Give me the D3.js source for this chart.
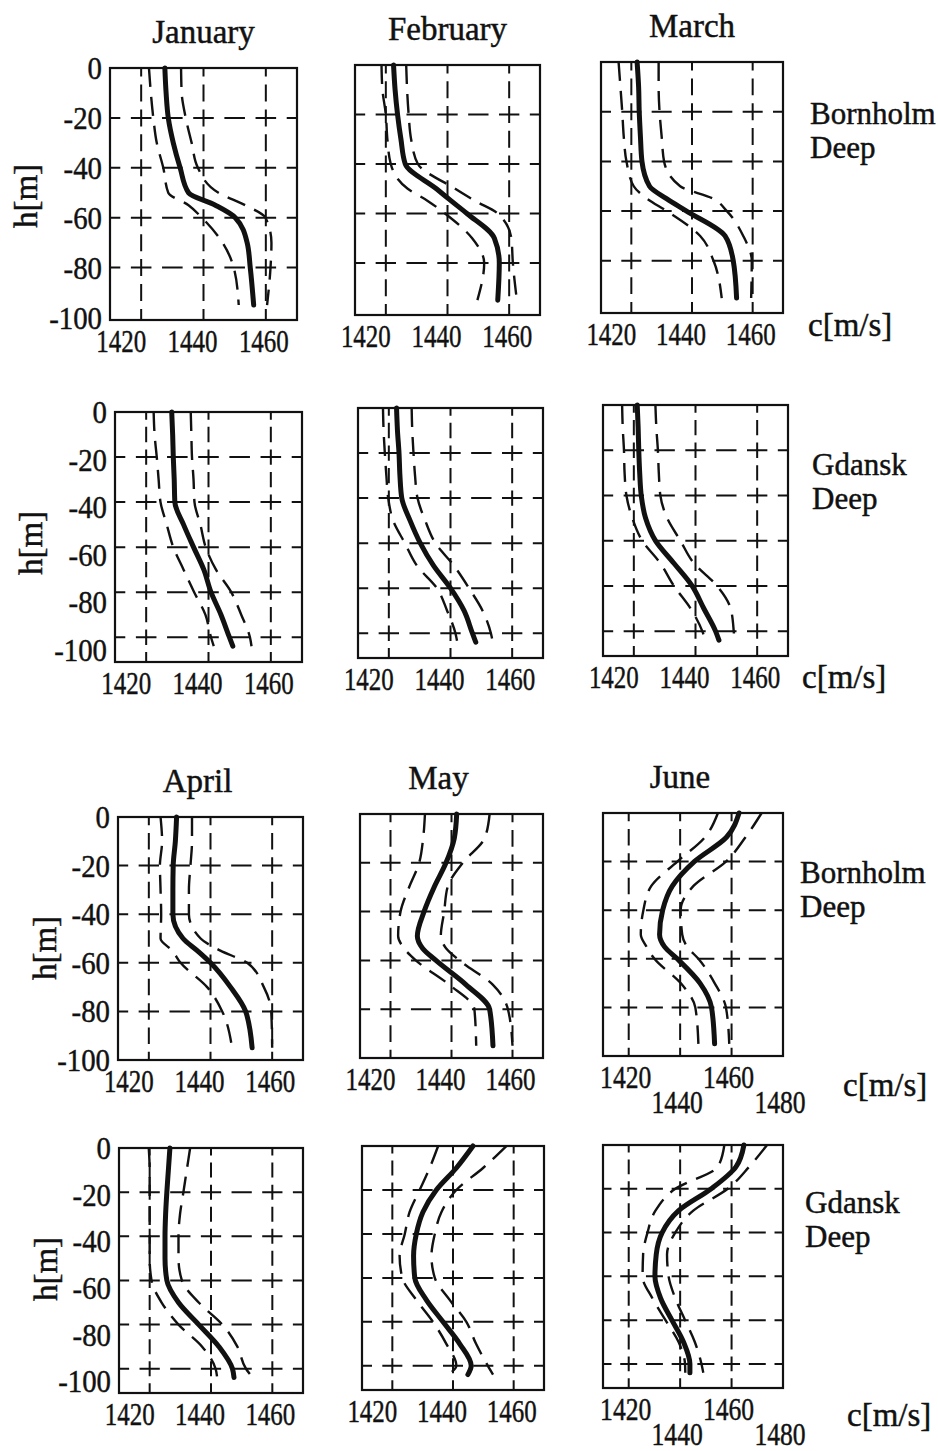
<!DOCTYPE html>
<html>
<head>
<meta charset="utf-8">
<script src="https://cdn.jsdelivr.net/npm/d3@7"></script>
<style>
  body { margin: 0; background: #fff; }
  svg { display: block; }
  text { font-family: "Liberation Serif", "Times New Roman", serif; fill: #111; stroke: #111; stroke-width: 0.45px; }
</style>
</head>
<body>
<svg id="chart" width="938" height="1451"></svg>
<script>
// ---- data (sound speed c [m/s] at depth h [m]) ----
const depthB = [0, -10, -20, -30, -40, -50, -55, -60, -70, -80, -95];
const depthG = [0, -10, -20, -30, -40, -50, -60, -70, -80, -90, -100, -104];

// Bornholm Deep, January - March
const janB_mean = [1427.6, 1428.0, 1428.7, 1430.3, 1432.5, 1435.2, 1443.8, 1450.2, 1454.0, 1455.0, 1456.1];
const janB_hi   = [1432.8, 1433.0, 1434.3, 1436.2, 1438.2, 1444.8, 1453.4, 1459.9, 1461.8, 1461.5, 1460.4];
const janB_lo   = [1422.5, 1423.1, 1423.9, 1425.0, 1427.1, 1428.7, 1435.2, 1439.5, 1446.1, 1449.7, 1451.3];
const febB_mean = [1422.5, 1423.0, 1423.8, 1424.9, 1426.3, 1436.4, 1441.3, 1446.3, 1455.2, 1456.8, 1456.3];
const febB_hi   = [1426.6, 1426.9, 1427.4, 1428.2, 1430.4, 1442.5, 1449.1, 1456.3, 1460.7, 1461.2, 1462.5];
const febB_lo   = [1418.6, 1418.9, 1420.0, 1420.5, 1421.6, 1427.1, 1433.7, 1439.2, 1448.0, 1451.9, 1449.7];
const marB_mean = [1421.9, 1422.4, 1422.6, 1423.0, 1423.5, 1426.0, 1431.6, 1438.2, 1450.9, 1453.6, 1454.7];
const marB_hi   = [1429.0, 1429.0, 1429.3, 1430.0, 1430.8, 1436.1, 1447.0, 1451.5, 1456.9, 1459.7, 1459.5];
const marB_lo   = [1415.8, 1416.4, 1417.0, 1417.5, 1418.4, 1420.8, 1425.2, 1431.7, 1442.7, 1447.1, 1449.8];

// Gdansk Deep, January - March
const janG_mean = [1428.2, 1428.5, 1428.7, 1429.0, 1429.2, 1432.0, 1435.2, 1438.5, 1440.8, 1444.0, 1446.7, 1447.8];
const janG_hi   = [1434.3, 1434.5, 1434.7, 1435.2, 1435.5, 1437.4, 1439.1, 1442.4, 1447.3, 1450.5, 1453.3, 1453.8];
const janG_lo   = [1422.4, 1422.7, 1423.4, 1424.0, 1424.6, 1426.6, 1428.7, 1432.0, 1435.4, 1439.0, 1440.8, 1441.7];
const febG_mean = [1422.5, 1422.8, 1423.3, 1423.6, 1424.2, 1426.9, 1430.2, 1434.5, 1440.0, 1444.4, 1447.1, 1448.2];
const febG_hi   = [1427.4, 1427.6, 1428.0, 1428.5, 1429.3, 1431.8, 1435.1, 1441.1, 1446.0, 1450.4, 1453.1, 1453.7];
const febG_lo   = [1418.1, 1418.3, 1418.7, 1419.2, 1419.8, 1421.4, 1425.2, 1429.1, 1435.6, 1438.9, 1441.6, 1442.2];
const marG_mean = [1421.1, 1421.4, 1421.6, 1421.9, 1422.4, 1423.8, 1427.0, 1433.0, 1438.9, 1442.7, 1446.5, 1447.6];
const marG_hi   = [1427.0, 1427.3, 1427.8, 1428.1, 1428.6, 1430.8, 1435.1, 1439.5, 1447.0, 1451.4, 1452.4, 1452.6];
const marG_lo   = [1416.2, 1416.4, 1416.8, 1417.0, 1417.6, 1419.5, 1422.7, 1428.6, 1433.0, 1438.4, 1442.2, 1443.2];

// Bornholm Deep, April - June
const aprB_mean = [1429.0, 1428.6, 1427.9, 1427.8, 1427.8, 1431.1, 1435.7, 1440.0, 1446.5, 1451.4, 1453.5];
const aprB_hi   = [1434.0, 1434.0, 1433.5, 1433.0, 1433.0, 1436.8, 1443.2, 1451.9, 1457.3, 1459.7, 1460.0];
const aprB_lo   = [1423.8, 1424.3, 1423.6, 1423.8, 1424.0, 1423.8, 1427.6, 1430.3, 1438.9, 1443.8, 1447.0];
const mayB_mean = [1441.7, 1440.9, 1438.2, 1434.3, 1431.0, 1428.8, 1430.5, 1434.9, 1444.8, 1452.5, 1453.6];
const mayB_hi   = [1452.5, 1450.8, 1443.7, 1438.7, 1437.6, 1436.5, 1438.2, 1442.6, 1453.6, 1458.5, 1460.0];
const mayB_lo   = [1431.3, 1430.7, 1429.4, 1426.1, 1423.3, 1422.5, 1424.4, 1428.3, 1439.3, 1447.5, 1448.1];
const junB_mean = [1462.9, 1458.0, 1445.5, 1437.0, 1433.2, 1432.0, 1433.9, 1438.9, 1447.7, 1452.2, 1453.4];
const junB_hi   = [1471.7, 1465.4, 1457.8, 1445.2, 1440.2, 1440.8, 1442.7, 1447.1, 1453.4, 1457.8, 1459.1];
const junB_lo   = [1454.7, 1449.6, 1438.9, 1428.8, 1425.7, 1424.7, 1426.9, 1430.0, 1440.2, 1445.9, 1447.1];

// Gdansk Deep, April - June
const aprG_mean = [1426.6, 1426.1, 1425.6, 1425.2, 1425.0, 1425.0, 1425.6, 1429.4, 1436.0, 1442.6, 1447.0, 1447.5];
const aprG_hi   = [1433.2, 1432.1, 1431.0, 1429.9, 1429.4, 1429.4, 1430.5, 1436.0, 1443.7, 1448.6, 1451.4, 1453.6];
const aprG_lo   = [1419.7, 1420.0, 1420.0, 1420.0, 1420.0, 1420.0, 1420.6, 1423.9, 1429.4, 1437.1, 1441.5, 1442.0];
const mayG_mean = [1446.6, 1441.1, 1434.5, 1430.1, 1427.9, 1427.0, 1427.4, 1431.2, 1436.7, 1442.2, 1446.0, 1444.9];
const mayG_hi   = [1457.6, 1449.9, 1441.1, 1436.2, 1434.0, 1432.9, 1434.0, 1438.9, 1444.4, 1447.6, 1451.5, 1453.2];
const mayG_lo   = [1435.1, 1432.3, 1429.0, 1425.7, 1424.1, 1422.4, 1423.3, 1427.9, 1433.4, 1437.8, 1441.1, 1438.4];
const junG_mean = [1464.8, 1461.7, 1452.1, 1439.4, 1433.0, 1430.7, 1430.2, 1432.4, 1436.8, 1441.3, 1443.8, 1443.8];
const junG_hi   = [1473.8, 1466.8, 1458.5, 1445.1, 1438.1, 1434.9, 1435.5, 1438.1, 1441.9, 1445.7, 1448.3, 1449.0];
const junG_lo   = [1457.2, 1454.6, 1438.1, 1430.4, 1427.3, 1425.6, 1425.4, 1429.2, 1434.3, 1439.4, 1441.9, 1442.0];

// ticks
const xTicks = [1420, 1440, 1460];
const xTicksJune = [1420, 1440, 1460, 1480];
const yTicks = [0, -20, -40, -60, -80, -100];
const yGridB = [-20, -40, -60, -80];
const yGridG = [-20, -40, -60, -80, -100];

// ---- layout ----
const rows = [
  { titles: ["January", "February", "March"], region: ["Bornholm", "Deep"], depth: depthB,
    yMin: -101, labMin: -101, grid: yGridB,
    boxes: [[110, 68, 297, 320], [355, 65, 540, 315], [601, 62, 783, 313]],
    series: [[janB_mean, janB_hi, janB_lo], [febB_mean, febB_hi, febB_lo], [marB_mean, marB_hi, marB_lo]],
    regionPos: [810, 124], unitPos: [808, 336], hPos: [27, 196], titleDx: 0, june: false },
  { titles: null, region: ["Gdansk", "Deep"], depth: depthG,
    yMin: -111, labMin: -105, grid: yGridG,
    boxes: [[115, 412, 302, 662], [358, 408, 543, 658], [603, 405, 788, 656]],
    series: [[janG_mean, janG_hi, janG_lo], [febG_mean, febG_hi, febG_lo], [marG_mean, marG_hi, marG_lo]],
    regionPos: [812, 475], unitPos: [802, 688], hPos: [32, 543], titleDx: 0, june: false },
  { titles: ["April", "May", "June"], region: ["Bornholm", "Deep"], depth: depthB,
    yMin: -100, labMin: -100, grid: yGridB,
    boxes: [[118, 817, 303, 1060], [360, 814, 543, 1058], [603, 813, 783, 1056]],
    series: [[aprB_mean, aprB_hi, aprB_lo], [mayB_mean, mayB_hi, mayB_lo], [junB_mean, junB_hi, junB_lo]],
    regionPos: [800, 883], unitPos: [843, 1096], hPos: [46, 948], titleDx: -13, june: true },
  { titles: null, region: ["Gdansk", "Deep"], depth: depthG,
    yMin: -111, labMin: -105, grid: yGridG,
    boxes: [[119, 1148, 303, 1393], [362, 1146, 544, 1390], [603, 1145, 783, 1388]],
    series: [[aprG_mean, aprG_hi, aprG_lo], [mayG_mean, mayG_hi, mayG_lo], [junG_mean, junG_hi, junG_lo]],
    regionPos: [805, 1213], unitPos: [847, 1426], hPos: [47, 1269], titleDx: 0, june: true }
];

const svg = d3.select("#chart");
const ink = "#111";

const mod = (a, p) => ((a % p) + p) % p;

rows.forEach(row => {
  row.boxes.forEach((b, col) => {
    const [x0, y0, x1, y1] = b;
    const isJune = row.june && col === 2;
    const x = d3.scaleLinear().domain(isJune ? [1410, 1480] : [1410, 1470]).range([x0, x1]);
    const y = d3.scaleLinear().domain([row.yMin, 0]).range([y1, y0]);
    const g = svg.append("g");

    // dashed grid, dashes centred on the crossings
    const px = (x(1440) - x(1420)) / 2, dx = px * 0.66;
    row.grid.forEach(v => {
      g.append("line")
        .attr("x1", x0).attr("x2", x1).attr("y1", y(v)).attr("y2", y(v))
        .attr("stroke", ink).attr("stroke-width", 2)
        .attr("stroke-dasharray", `${dx},${px - dx}`)
        .attr("stroke-dashoffset", mod(dx / 2 - (x(1420) - x0), px));
    });
    const py = (y(-20) - y(0)) / 2, dy = py * 0.68;
    [1420, 1440, 1460].forEach(v => {
      g.append("line")
        .attr("x1", x(v)).attr("x2", x(v)).attr("y1", y0).attr("y2", y1)
        .attr("stroke", ink).attr("stroke-width", 2)
        .attr("stroke-dasharray", `${dy},${py - dy}`)
        .attr("stroke-dashoffset", mod(dy / 2, py));
    });

    // frame
    g.append("rect")
      .attr("x", x0).attr("y", y0).attr("width", x1 - x0).attr("height", y1 - y0)
      .attr("fill", "none").attr("stroke", ink).attr("stroke-width", 2.2);

    // profiles
    const line = d3.line().x(d => x(d[0])).y(d => y(d[1])).curve(d3.curveMonotoneY);
    const [mean, hi, lo] = row.series[col];
    [hi, lo].forEach(s => {
      g.append("path").datum(d3.zip(s, row.depth))
        .attr("d", line).attr("fill", "none").attr("stroke", ink)
        .attr("stroke-width", 2.4).attr("stroke-dasharray", "19,10");
    });
    g.append("path").datum(d3.zip(mean, row.depth))
      .attr("d", line).attr("fill", "none").attr("stroke", ink)
      .attr("stroke-width", 5).attr("stroke-linecap", "round").attr("stroke-linejoin", "round");

    // x tick labels
    if (isJune) {
      xTicksJune.forEach((v, i) => {
        g.append("text")
          .attr("transform", `translate(${x(v) - 3},${y1 + (i % 2 ? 57 : 32)}) scale(0.8,1)`)
          .attr("text-anchor", "middle").style("font-size", "32px").text(v);
      });
    } else {
      const lx = d3.scaleLinear().domain([1420, 1460]).range([x(1420) - 20, x(1460) - 2]);
      xTicks.forEach(v => {
        g.append("text")
          .attr("transform", `translate(${lx(v)},${y1 + 32}) scale(0.78,1)`)
          .attr("text-anchor", "middle").style("font-size", "32px").text(v);
      });
    }

    // y tick labels and axis title on the first column
    if (col === 0) {
      const ly = d3.scaleLinear().domain([row.labMin, 0]).range([y1, y0]);
      yTicks.forEach(v => {
        g.append("text")
          .attr("transform", `translate(${x0 - 8},${ly(v) + 11}) scale(0.9,1)`)
          .attr("text-anchor", "end").style("font-size", "32px").text(v);
      });
      svg.append("text")
        .attr("transform", `translate(${row.hPos[0] + 10},${row.hPos[1]}) rotate(-90)`)
        .attr("text-anchor", "middle").style("font-size", "33px").text("h[m]");
    }

    // month title
    if (row.titles) {
      svg.append("text")
        .attr("x", (x0 + x1) / 2 + row.titleDx).attr("y", y0 - 25)
        .attr("text-anchor", "middle").style("font-size", "33px").text(row.titles[col]);
    }
  });

  // region label and unit
  row.region.forEach((t, i) => {
    svg.append("text")
      .attr("x", row.regionPos[0]).attr("y", row.regionPos[1] + i * 34)
      .style("font-size", "31px").text(t);
  });
  svg.append("text")
    .attr("x", row.unitPos[0]).attr("y", row.unitPos[1])
    .style("font-size", "33px").text("c[m/s]");
});
</script>
</body>
</html>
